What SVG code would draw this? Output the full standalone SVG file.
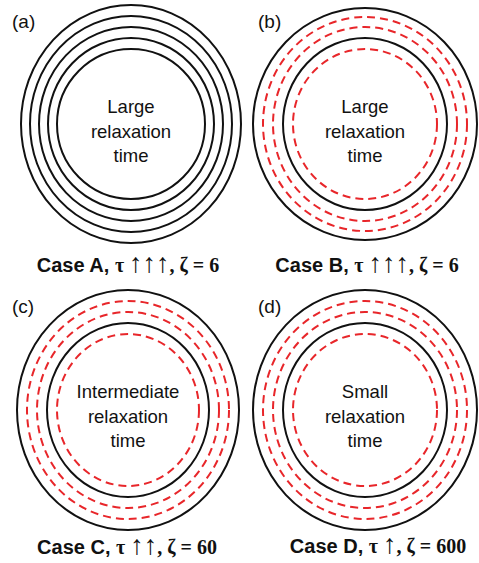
<svg xmlns="http://www.w3.org/2000/svg" width="479" height="563" viewBox="0 0 479 563">
<style>
.blk{fill:none;stroke:#111;stroke-width:2}
.red{fill:none;stroke:#e8262a;stroke-width:2;stroke-dasharray:8 5}
.lab{font-family:"Liberation Sans",Arial,sans-serif;font-size:19px;fill:#111}
.in{font-family:"Liberation Sans",Arial,sans-serif;font-size:18.5px;fill:#111;text-anchor:middle}
.cap{font-size:20px;font-weight:bold;fill:#111;text-anchor:middle}
.cs{font-family:"Liberation Sans",Arial,sans-serif}
.sy{font-family:"Liberation Serif","Times New Roman",serif}
.ar{font-family:"Liberation Serif","Times New Roman",serif;font-weight:normal;font-size:27px}
</style>
<rect width="479" height="563" fill="#fff"/>
<g id="panel-a">
<text class="lab" x="12" y="28">(a)</text>
<ellipse class="blk" cx="131" cy="124" rx="110" ry="119"/>
<ellipse class="blk" cx="131" cy="124" rx="101" ry="108"/>
<ellipse class="blk" cx="131" cy="124" rx="92" ry="97"/>
<ellipse class="blk" cx="131" cy="124" rx="83" ry="86"/>
<ellipse class="blk" cx="131" cy="124" rx="74" ry="75"/>
<text class="in" x="131" y="113">Large</text>
<text class="in" x="131" y="138">relaxation</text>
<text class="in" x="131" y="162">time</text>
<text class="cap" x="128" y="272"><tspan class="cs">Case A, </tspan><tspan class="sy">τ </tspan><tspan class="ar">↑↑↑</tspan><tspan class="sy">, ζ = 6</tspan></text>
</g>
<g id="panel-b">
<text class="lab" x="258" y="28">(b)</text>
<ellipse class="blk" cx="365" cy="124" rx="112" ry="116"/>
<ellipse class="red" cx="365" cy="124" rx="102" ry="107"/>
<ellipse class="red" cx="365" cy="124" rx="92" ry="97"/>
<ellipse class="blk" cx="365" cy="124" rx="82" ry="86"/>
<ellipse class="red" cx="365" cy="124" rx="72" ry="75"/>
<text class="in" x="365" y="113">Large</text>
<text class="in" x="365" y="138">relaxation</text>
<text class="in" x="365" y="162">time</text>
<text class="cap" x="367" y="272"><tspan class="cs">Case B, </tspan><tspan class="sy">τ </tspan><tspan class="ar">↑↑↑</tspan><tspan class="sy">, ζ = 6</tspan></text>
</g>
<g id="panel-c">
<text class="lab" x="12" y="313">(c)</text>
<ellipse class="blk" cx="128" cy="410" rx="111" ry="120"/>
<ellipse class="red" cx="128" cy="410" rx="101" ry="109"/>
<ellipse class="red" cx="128" cy="410" rx="91" ry="98"/>
<ellipse class="blk" cx="128" cy="410" rx="81" ry="87"/>
<ellipse class="red" cx="128" cy="410" rx="71" ry="76"/>
<text class="in" x="128" y="398">Intermediate</text>
<text class="in" x="128" y="423">relaxation</text>
<text class="in" x="128" y="447">time</text>
<text class="cap" x="127" y="554"><tspan class="cs">Case C, </tspan><tspan class="sy">τ </tspan><tspan class="ar">↑↑</tspan><tspan class="sy">, ζ = 60</tspan></text>
</g>
<g id="panel-d">
<text class="lab" x="258" y="313">(d)</text>
<ellipse class="blk" cx="365" cy="410" rx="112" ry="120"/>
<ellipse class="red" cx="365" cy="410" rx="102" ry="109"/>
<ellipse class="red" cx="365" cy="410" rx="92" ry="98"/>
<ellipse class="blk" cx="365" cy="410" rx="82" ry="87"/>
<ellipse class="red" cx="365" cy="410" rx="72" ry="76"/>
<text class="in" x="365" y="398">Small</text>
<text class="in" x="365" y="423">relaxation</text>
<text class="in" x="365" y="447">time</text>
<text class="cap" x="378" y="553"><tspan class="cs">Case D, </tspan><tspan class="sy">τ </tspan><tspan class="ar">↑</tspan><tspan class="sy">, ζ = 600</tspan></text>
</g>
<g id="connectors"/>
</svg>
